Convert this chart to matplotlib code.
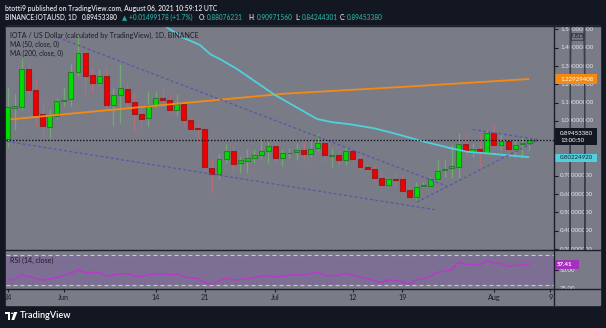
import matplotlib
matplotlib.use("Agg")
import matplotlib.pyplot as plt
from matplotlib.patches import Rectangle, FancyBboxPatch, Polygon, Circle
from matplotlib.lines import Line2D

plt.rcParams["font.family"] = ["Lato", "DejaVu Sans"]

# ---------------- data: IOTA/USD daily candles, 24 May .. 6 Aug 2021 ----------------
opens = [0.903, 1.071, 1.078, 1.286, 1.169, 1.036, 0.969, 1.027, 1.107, 1.118,
         1.269, 1.373, 1.249, 1.206, 1.246, 1.087, 1.140, 1.173, 1.106, 1.036,
         1.014, 1.085, 1.126, 1.115, 1.060, 1.095, 1.004, 0.962, 0.954, 0.745,
         0.712, 0.794, 0.836, 0.769, 0.783, 0.796, 0.814, 0.836, 0.863, 0.796,
         0.823, 0.829, 0.840, 0.818, 0.850, 0.882, 0.810, 0.814, 0.787, 0.836,
         0.790, 0.750, 0.736, 0.687, 0.652, 0.683, 0.681, 0.623, 0.587, 0.643,
         0.647, 0.681, 0.732, 0.741, 0.750, 0.873, 0.836, 0.845, 0.827, 0.933,
         0.869, 0.893, 0.845, 0.873, 0.88076231]
highs = [1.187, 1.146, 1.337, 1.324, 1.237, 1.100, 1.064, 1.127, 1.187, 1.309,
         1.470, 1.390, 1.282, 1.282, 1.291, 1.182, 1.309, 1.200, 1.155, 1.082,
         1.164, 1.164, 1.190, 1.146, 1.146, 1.100, 1.027, 0.991, 0.963, 0.790,
         0.818, 0.872, 0.863, 0.809, 0.845, 0.845, 0.900, 0.890, 0.881, 0.845,
         0.850, 0.878, 0.893, 0.896, 0.936, 0.896, 0.850, 0.841, 0.860, 0.841,
         0.814, 0.760, 0.760, 0.723, 0.692, 0.723, 0.705, 0.641, 0.669, 0.669,
         0.692, 0.787, 0.787, 0.869, 0.933, 0.933, 0.882, 0.933, 0.951, 0.978,
         0.942, 0.914, 0.896, 0.914, 0.90971560]
lows = [0.860, 0.950, 1.060, 1.150, 0.973, 0.909, 0.909, 1.009, 1.082, 1.082,
        1.245, 1.142, 1.155, 1.190, 1.073, 0.973, 0.990, 1.082, 0.936, 0.963,
        0.973, 1.073, 1.100, 1.036, 1.027, 0.973, 0.945, 0.881, 0.717, 0.608,
        0.681, 0.772, 0.717, 0.717, 0.717, 0.772, 0.790, 0.772, 0.763, 0.754,
        0.796, 0.787, 0.787, 0.805, 0.838, 0.778, 0.750, 0.760, 0.760, 0.778,
        0.732, 0.723, 0.669, 0.641, 0.645, 0.641, 0.614, 0.578, 0.568, 0.638,
        0.641, 0.674, 0.692, 0.687, 0.687, 0.814, 0.805, 0.750, 0.823, 0.850,
        0.841, 0.823, 0.805, 0.796, 0.84244301]
closes = [1.076, 1.082, 1.286, 1.167, 1.033, 0.973, 1.031, 1.109, 1.115, 1.269,
          1.373, 1.246, 1.209, 1.246, 1.087, 1.142, 1.178, 1.106, 1.036, 1.009,
          1.085, 1.124, 1.113, 1.060, 1.095, 1.004, 0.958, 0.954, 0.748, 0.712,
          0.794, 0.836, 0.767, 0.787, 0.796, 0.812, 0.838, 0.863, 0.796, 0.823,
          0.827, 0.840, 0.818, 0.847, 0.882, 0.812, 0.814, 0.787, 0.834, 0.790,
          0.750, 0.736, 0.687, 0.652, 0.681, 0.678, 0.619, 0.583, 0.641, 0.650,
          0.681, 0.729, 0.739, 0.754, 0.873, 0.836, 0.845, 0.831, 0.933, 0.869,
          0.893, 0.845, 0.871, 0.87954202, 0.89453380]

# moving averages (day index, value)
ma50_days = [22.3, 25, 27.3, 28.8, 30.2, 32.6, 35.4, 37.8, 43.9, 46.1, 48.6,
             52, 54.8, 58.6, 62.9, 65.2, 68, 74]
ma50_vals = [1.519, 1.454, 1.415, 1.364, 1.337, 1.283, 1.209, 1.145, 1.011,
             0.993, 0.982, 0.960, 0.933, 0.892, 0.851, 0.832, 0.823, 0.80224920]
ma200_days = [0.45, 20, 39.2, 56, 74]
ma200_vals = [1.009, 1.080, 1.149, 1.186, 1.22929408]

# drawn trend lines: (day0, price0, day1, price1)
trend_lines = [(7.16, 1.456, 62.3, 0.645),
               (-0.07, 0.888, 60.9, 0.514),
               (58.1, 0.557, 75.1, 0.893),
               (66.0, 0.954, 75.5, 0.896)]

# RSI (14)
rsi = [36.7, 37.6, 43.3, 41.0, 38.9, 36.7, 38.0, 40.0, 42.5, 45.6,
       50.0, 47.0, 46.6, 46.9, 42.0, 43.5, 45.0, 45.0, 42.0, 41.1,
       43.5, 44.7, 45.0, 43.3, 44.7, 41.0, 39.3, 38.9, 32.5, 31.3,
       35.5, 38.9, 36.7, 37.5, 38.4, 40.0, 41.5, 42.9, 40.3, 42.0,
       43.0, 43.8, 42.8, 45.0, 46.9, 43.0, 42.3, 43.0, 45.6, 43.0,
       40.8, 38.6, 35.6, 33.1, 36.7, 36.0, 34.0, 31.3, 37.3, 38.3,
       42.0, 47.0, 48.5, 50.0, 60.7, 57.8, 57.2, 56.7, 63.0, 59.0,
       58.7, 55.0, 56.0, 56.8, 57.41]

date_ticks = [0, 8, 21, 28, 38, 49, 56, 69, 77]
date_labels = ["24", "Jun", "14", "21", "Jul", "12", "19", "Aug", "9"]
price_ticks = [1.5, 1.4, 1.3, 1.2, 1.1, 1.0, 0.9, 0.8, 0.7, 0.6, 0.5, 0.4, 0.3]
covered_ticks = [0.9, 0.8]   # sit under the last-price and MA50 badges

# ---------------- style ----------------
W, H = 606, 328
DARK = "#131722"
PANE = "#797c87"
BAND = "#7d6f93"
INK = "#1a1d26"
LIGHT = "#e4e5ea"
TEAL = "#26a69a"
UP, UP_EDGE, UP_WICK = "#00dc00", "#2f7a32", "#72a872"
DN, DN_EDGE, DN_WICK = "#ee0000", "#9a1c1c", "#b0707a"
CYAN = "#50d0dc"
ORANGE = "#f58a12"
TREND = "#5b55a8"
RSI_C = "#b43cc8"

fig = plt.figure(figsize=(W / 100, H / 100), dpi=100, facecolor=DARK)
renderer = fig.canvas.get_renderer()


def fbox(x0, y0, x1, y1):
    return [x0 / W, 1 - y1 / H, (x1 - x0) / W, (y1 - y0) / H]


def fx(x):
    return x / W


def fy(y):
    return 1 - y / H


def put(x, y, s, width=None, size=5.0, **kw):
    kw.setdefault("va", "center")
    t = fig.text(fx(x), fy(y), s, fontsize=size, **kw)
    if width:
        w = t.get_window_extent(renderer).width
        t.set_fontsize(size * width / w)
    return t


def fit_size(s, width, size=5.0, **kw):
    t = fig.text(0, 0, s, fontsize=size, **kw)
    w = t.get_window_extent(renderer).width
    t.remove()
    return size * width / w


# chart background panel (behind every axes)
fig.patches.append(Rectangle((fx(6), fy(305)), 594 / W, 279 / H,
                             transform=fig.transFigure, color=PANE, zorder=-10))

XL = (-0.213, 77.52)
YL = (0.295, 1.519)
RL = (24.67, 76.67)

# ---------------- price pane ----------------
ax = fig.add_axes(fbox(6, 26, 554, 250))
ax.set_xlim(*XL)
ax.set_ylim(*YL)
ax.set_axis_off()

days = list(range(len(closes)))
for d, o, h, l, c in zip(days, opens, highs, lows, closes):
    up = c >= o
    ax.vlines(d, l, h, color=UP_WICK if up else DN_WICK, lw=0.9, zorder=2)
    lo, hi = min(o, c), max(o, c)
    ax.add_patch(Rectangle((d - 0.35, lo), 0.7, max(hi - lo, 0.003),
                           facecolor=UP if up else DN,
                           edgecolor=UP_EDGE if up else DN_EDGE,
                           lw=0.8, zorder=3))

ax.plot(ma200_days, ma200_vals, color=ORANGE, lw=1.3, zorder=4, solid_capstyle="butt")
ax.plot(ma50_days, ma50_vals, color=CYAN, lw=1.3, zorder=4, solid_capstyle="butt")

for d0, p0, d1, p1 in trend_lines:
    ax.plot([d0, d1], [p0, p1], color=TREND, lw=0.9, ls=(0, (2.4, 1.8)), zorder=5)

ax.axhline(closes[-1], color="#111318", lw=1.0, ls=(0, (1, 1.3)), zorder=5)

# ---------------- RSI pane ----------------
axr = fig.add_axes(fbox(6, 250, 554, 289))
axr.set_xlim(*XL)
axr.set_ylim(*RL)
axr.patch.set_visible(False)
for s in axr.spines.values():
    s.set_visible(False)
axr.set_yticks([])
axr.set_xticks(date_ticks)
axr.tick_params(axis="x", direction="out", length=2.5, width=0.8,
                color=INK, labelbottom=False)
axr.axhspan(30, 70, color=BAND, zorder=1, lw=0)
for lvl in (70, 30):
    axr.axhline(lvl, color="#c9c9d3", lw=0.8, ls=(0, (3.6, 2.7)), zorder=2)
axr.plot(days, rsi, color=RSI_C, lw=1.15, zorder=3)

# ---------------- price scale ----------------
axp = fig.add_axes(fbox(554, 26, 600, 250))
axp.set_xlim(0, 46)
axp.set_ylim(*YL)
axp.patch.set_visible(False)
for s in axp.spines.values():
    s.set_visible(False)
axp.set_xticks([])
axp.set_yticks(price_ticks)
axp.tick_params(axis="y", direction="in", length=3, width=0.8, color=INK,
                left=True, labelleft=False)

lab_size = fit_size("1.40000000", 34)
for v in price_ticks:
    if v in covered_ticks:
        continue
    axp.text(6, v, f"{v:.8f}", fontsize=lab_size, color=LIGHT, va="center",
             ha="left", clip_on=True, zorder=2)

# USD unit badge
axp.add_patch(FancyBboxPatch((16.0, 1.441), 15, 0.036,
                             boxstyle="round,pad=0,rounding_size=1.5",
                             facecolor=PANE, edgecolor="#3a3d48", lw=0.7, zorder=3))
axp.text(23.5, 1.459, "USD", fontsize=lab_size, color=INK, ha="center",
         va="center", zorder=4)

px_per_price = 224 / (YL[1] - YL[0])


def price_box(value, y_center_px_offset, h_px, face, lines, colors, gap=7.5):
    h = h_px / px_per_price
    yc = value - y_center_px_offset / px_per_price
    axp.add_patch(Rectangle((0, yc - h / 2), 43, h, facecolor=face, lw=0, zorder=5))
    n = len(lines)
    for k, (s, c) in enumerate(zip(lines, colors)):
        off = (k - (n - 1) / 2) * gap / px_per_price
        axp.text(6, yc - off, s, fontsize=lab_size, color=c, va="center",
                 ha="left", zorder=6)


price_box(ma200_vals[-1], 0, 9.5, ORANGE, [f"{ma200_vals[-1]:.8f}"], ["white"])
price_box(closes[-1], -3.5, 17.0, DARK, [f"{closes[-1]:.8f}", "13:00:50"],
          ["white", "white"])
price_box(ma50_vals[-1], 0.8, 8.5, CYAN, [f"{ma50_vals[-1]:.8f}"], [INK])

# ---------------- RSI scale ----------------
axs = fig.add_axes(fbox(554, 250, 600, 289))
axs.set_xlim(0, 46)
axs.set_ylim(*RL)
axs.patch.set_visible(False)
for s in axs.spines.values():
    s.set_visible(False)
axs.set_xticks([])
axs.set_yticks([50, 25])
axs.tick_params(axis="y", direction="in", length=3, width=0.8, color=INK,
                left=True, labelleft=False)
for v in (50, 25):
    axs.text(6, v, f"{v:.2f}", fontsize=lab_size, color=LIGHT, va="center",
             ha="left", clip_on=True, zorder=2)
rh = 8.3 * (RL[1] - RL[0]) / 39
axs.add_patch(Rectangle((0, rsi[-1] - rh / 2), 25, rh, facecolor="#a62fbf",
                        lw=0, zorder=5))
axs.text(3, rsi[-1], f"{rsi[-1]:.2f}", fontsize=lab_size, color="white",
         fontweight="bold", va="center", ha="left", zorder=6)

# ---------------- separators ----------------
for (x0, y0, x1, y1) in [(554, 26, 554, 305), (6, 250, 600, 250),
                         (6, 289, 600, 289), (6, 26, 600, 26)]:
    fig.lines.append(Line2D([fx(x0), fx(x1)], [fy(y0), fy(y1)],
                            transform=fig.transFigure, color="#1c1f29", lw=1.0))

# ---------------- date labels ----------------
date_size = fit_size("Jun", 11.5)
for d, s in zip(date_ticks, date_labels):
    xp = 7.5 + 7.05 * d
    put(xp, 297.5, s, size=date_size, color=INK, ha="center")

# ---------------- pane legends ----------------
put(10, 35.7, "IOTA / US Dollar (calculated by TradingView), 1D, BINANCE",
    width=191, color=INK)
put(10, 44.0, "MA (50, close, 0)", width=49, color=INK)
put(10, 53.4, "MA (200, close, 0)", width=53, color=INK)
put(10, 260.0, "RSI (14, close)", width=44, color=INK)

# ---------------- header ----------------
put(5, 8.2, "btotti9 published on TradingView.com, August 06, 2021 10:59:12 UTC",
    width=213, color=LIGHT, fontweight="semibold")

hsize = fit_size("BINANCE:IOTAUSD, 1D", 73, fontweight="semibold")
chg = closes[-1] - closes[-2]
pct = chg / closes[-2] * 100
header_runs = [
    (5, "BINANCE:IOTAUSD, 1D", LIGHT),
    (82, f"{closes[-1]:.8f}", LIGHT),
    (122, "\u25b2", TEAL),
    (129, f"+{chg:.8f} (+{pct:.1f}%)", TEAL),
    (199, "O:", LIGHT), (206.5, f"{opens[-1]:.8f}", TEAL),
    (248.5, "H:", LIGHT), (256.5, f"{highs[-1]:.8f}", TEAL),
    (295, "L:", LIGHT), (301.5, f"{lows[-1]:.8f}", TEAL),
    (340, "C:", LIGHT), (347, f"{closes[-1]:.8f}", TEAL),
]
for x, s, c in header_runs:
    put(x, 17.6, s, size=hsize, color=c, fontweight="semibold")

# ---------------- footer brand ----------------
def fpoly(pts, **kw):
    fig.patches.append(Polygon([(fx(a), fy(b)) for a, b in pts],
                               transform=fig.transFigure, **kw))


fpoly([(5, 312), (10.2, 312), (10.2, 320), (7.6, 320), (7.6, 314.4), (5, 314.4)],
      color="white", lw=0)
fig.patches.append(Circle((fx(12.2), fy(313.3)), 1.25 / W, transform=fig.transFigure,
                          color="white", lw=0))
fpoly([(14.0, 312), (17.4, 312), (14.2, 320), (11.4, 320)], color="white", lw=0)
put(20, 316, "TradingView", width=52, color="white", fontweight="semibold")

fig.savefig("out.png", dpi=100, facecolor=DARK)
